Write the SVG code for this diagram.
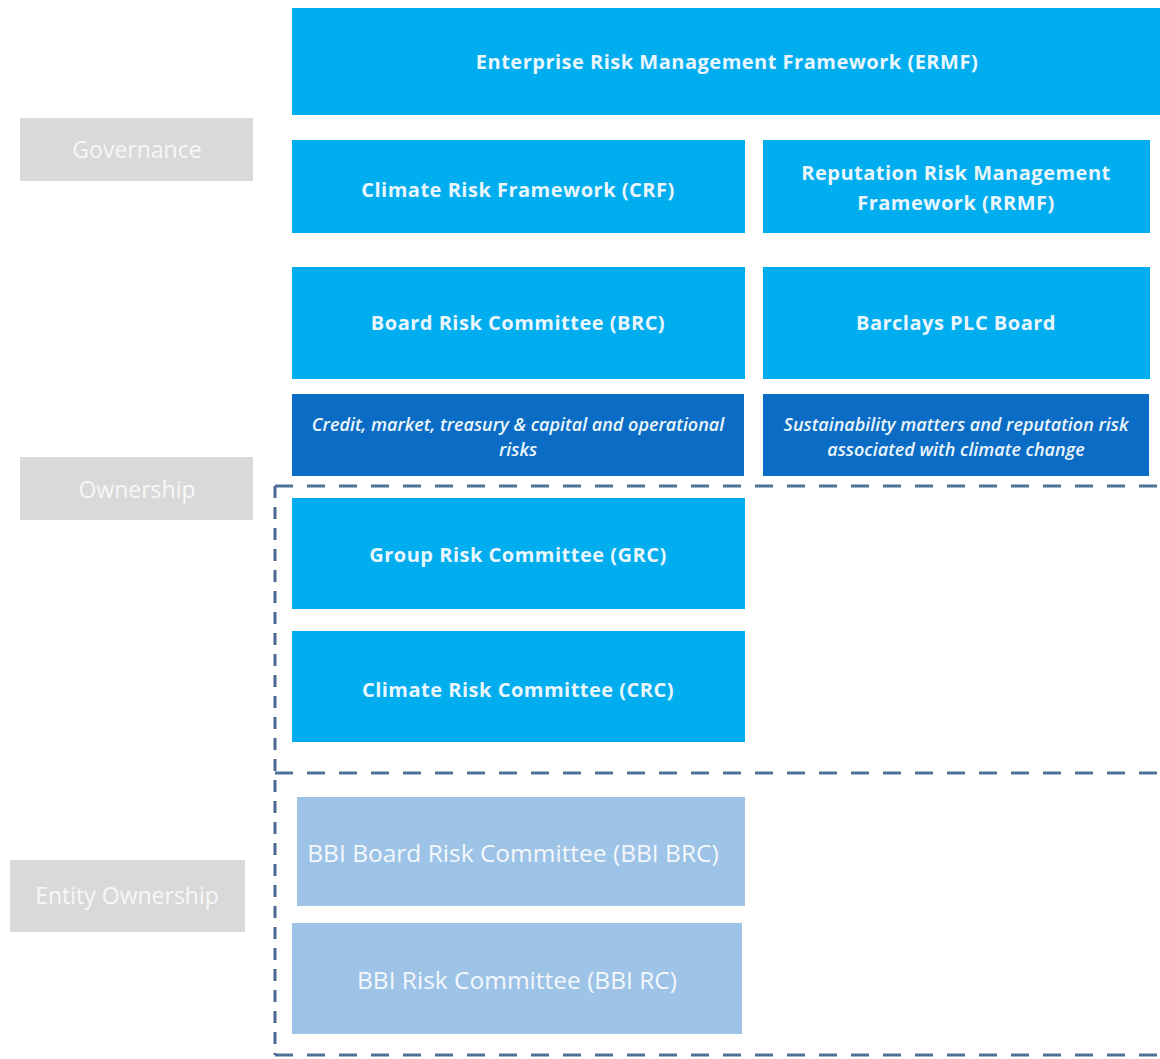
<svg xmlns="http://www.w3.org/2000/svg" width="1160" height="1059" viewBox="0 0 1160 1059">
  <style>
    .blue { fill: #00AEEF; }
    .dark { fill: #0A6CC4; }
    .pale { fill: #9DC3E6; }
    .grey { fill: #D9D9D9; }
    .t { font-family: "Open Sans", "Liberation Sans", sans-serif; fill: #EAF6FC; text-anchor: middle; }
    .tb { font-size: 20px; font-weight: 700; letter-spacing: 0.5px; }
    .ti { font-size: 18px; font-weight: 600; font-style: italic; }
    .tl { font-size: 23px; fill: #F7F7F7; }
    .tp { font-size: 24.5px; fill: #F4F8FC; }
    .dash { fill: none; stroke: #4E6F97; stroke-width: 3; stroke-dasharray: 18 14; }
    .vdash { fill: none; stroke: #4A6A92; stroke-width: 3; stroke-dasharray: 12 9; }
  </style>
  <rect width="1160" height="1059" fill="#FFFFFF"/>

  <!-- row labels -->
  <g id="governance">
    <rect class="grey" x="20" y="118" width="233" height="63"/>
    <text class="t tl" x="137" y="158">Governance</text>
  </g>
  <g id="ownership">
    <rect class="grey" x="20" y="457" width="233" height="63"/>
    <text class="t tl" x="137" y="498">Ownership</text>
  </g>
  <g id="entity-ownership">
    <rect class="grey" x="10" y="860" width="235" height="72"/>
    <text class="t tl" x="127" y="904">Entity Ownership</text>
  </g>

  <!-- framework boxes -->
  <g id="ermf">
    <rect class="blue" x="292" y="8" width="868" height="107"/>
    <text class="t tb" x="727" y="69">Enterprise Risk Management Framework (ERMF)</text>
  </g>
  <g id="crf">
    <rect class="blue" x="292" y="140" width="453" height="93"/>
    <text class="t tb" x="518" y="197">Climate Risk Framework (CRF)</text>
  </g>
  <g id="rrmf">
    <rect class="blue" x="763" y="140" width="387" height="93"/>
    <text class="t tb" x="956" y="180">Reputation Risk Management</text>
    <text class="t tb" x="956" y="210">Framework (RRMF)</text>
  </g>

  <!-- board level -->
  <g id="brc">
    <rect class="blue" x="292" y="267" width="453" height="112"/>
    <text class="t tb" x="518" y="330">Board Risk Committee (BRC)</text>
  </g>
  <g id="plc-board">
    <rect class="blue" x="763" y="267" width="387" height="112"/>
    <text class="t tb" x="956" y="330">Barclays PLC Board</text>
  </g>
  <g id="brc-scope">
    <rect class="dark" x="292" y="394" width="452" height="82"/>
    <text class="t ti" x="518" y="431">Credit, market, treasury &amp; capital and operational</text>
    <text class="t ti" x="518" y="456">risks</text>
  </g>
  <g id="board-scope">
    <rect class="dark" x="763" y="394" width="386" height="82"/>
    <text class="t ti" x="956" y="431">Sustainability matters and reputation risk</text>
    <text class="t ti" x="956" y="456">associated with climate change</text>
  </g>

  <!-- group committees -->
  <g id="grc">
    <rect class="blue" x="292" y="498" width="453" height="111"/>
    <text class="t tb" x="518" y="562">Group Risk Committee (GRC)</text>
  </g>
  <g id="crc">
    <rect class="blue" x="292" y="631" width="453" height="111"/>
    <text class="t tb" x="518" y="697">Climate Risk Committee (CRC)</text>
  </g>

  <!-- entity committees -->
  <g id="bbi-brc">
    <rect class="pale" x="297" y="797" width="448" height="109"/>
    <text class="t tp" x="513" y="862">BBI Board Risk Committee (BBI BRC)</text>
  </g>
  <g id="bbi-rc">
    <rect class="pale" x="292" y="923" width="450" height="111"/>
    <text class="t tp" x="517" y="989">BBI Risk Committee (BBI RC)</text>
  </g>

  <!-- dashed groupings -->
  <g id="connectors">
    <path class="dash" d="M275 486 H1160"/>
    <path class="dash" d="M275 773 H1160" stroke="#6A8DB8"/>
    <path class="dash" d="M275 1055 H1160" stroke="#5F80AC"/>
    <path class="vdash" d="M275 486 V1055"/>
  </g>
</svg>
